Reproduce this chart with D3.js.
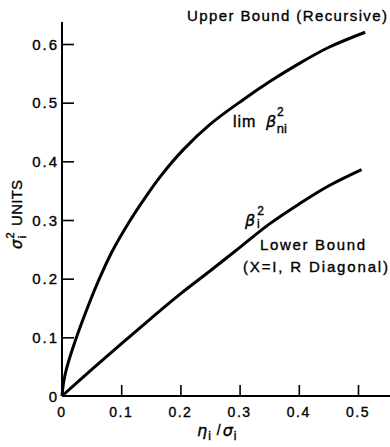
<!DOCTYPE html>
<html><head><meta charset="utf-8">
<script src="https://cdn.jsdelivr.net/npm/d3@7"></script>
<style>
html,body{margin:0;padding:0;background:#fff;}
svg{display:block;}
text{font-family:"Liberation Sans",Arial,sans-serif;fill:#000;stroke:#000;stroke-width:0.35px;}
.gr{font-family:"DejaVu Sans",sans-serif;font-style:italic;}
</style></head>
<body><div id="chart"></div>
<script>
// ---- data ----
const upperX = [0, 0.003, 0.008, 0.022, 0.044, 0.061, 0.084, 0.115, 0.137, 0.166, 0.205, 0.25, 0.306, 0.351, 0.396, 0.45, 0.512];
const upperY = [0, 0.025, 0.048, 0.093, 0.153, 0.195, 0.245, 0.299, 0.333, 0.374, 0.42, 0.463, 0.505, 0.536, 0.564, 0.594, 0.62];
const lowerX = [0, 0.05, 0.1, 0.15, 0.2, 0.25, 0.3, 0.35, 0.4, 0.45, 0.506];
const lowerY = [0, 0.045, 0.089, 0.132, 0.174, 0.213, 0.253, 0.293, 0.327, 0.358, 0.386];
const xTicks = [0, 0.1, 0.2, 0.3, 0.4, 0.5];
const xTickLabels = ["0", "0.1", "0.2", "0.3", "0.4", "0.5"];
const yTicks = [0, 0.1, 0.2, 0.3, 0.4, 0.5, 0.6];
const yTickLabels = ["0", "0.1", "0.2", "0.3", "0.4", "0.5", "0.6"];

const W = 390, H = 447;
const svg = d3.select("#chart").append("svg").attr("width", W).attr("height", H);

const x = d3.scaleLinear().domain([0, 0.5]).range([62, 358]);
const y = d3.scaleLinear().domain([0, 0.6]).range([396, 44]);

// axes lines
svg.append("line").attr("x1", x(0)).attr("x2", W).attr("y1", y(0)).attr("y2", y(0))
  .attr("stroke", "#000").attr("stroke-width", 2);
svg.append("line").attr("x1", x(0)).attr("x2", x(0)).attr("y1", y(0)).attr("y2", 22)
  .attr("stroke", "#000").attr("stroke-width", 2);

// x axis ticks (inward, upward)
const xAxis = d3.axisTop(x).tickValues(xTicks.slice(1)).tickSize(11).tickFormat("");
const gx = svg.append("g").attr("transform", `translate(0,${y(0)})`).call(xAxis);
gx.select(".domain").remove();
gx.selectAll(".tick line").attr("stroke", "#000").attr("stroke-width", 1.6);
svg.append("g").selectAll("text").data(xTicks).join("text")
  .attr("x", d => x(d)).attr("y", 417).attr("text-anchor", "middle")
  .attr("font-size", 14).attr("letter-spacing", 1.5)
  .text((d, i) => xTickLabels[i]);

// y axis ticks (inward, rightward)
const yAxis = d3.axisRight(y).tickValues(yTicks.slice(1)).tickSize(12).tickFormat("");
const gy = svg.append("g").attr("transform", `translate(${x(0)},0)`).call(yAxis);
gy.select(".domain").remove();
gy.selectAll(".tick line").attr("stroke", "#000").attr("stroke-width", 1.6);
svg.append("g").selectAll("text").data(yTicks).join("text")
  .attr("x", 59).attr("y", d => y(d) + 5.5).attr("text-anchor", "end")
  .attr("font-size", 15).attr("letter-spacing", 2)
  .text((d, i) => yTickLabels[i]);

// curves
const line = d3.line().x(d => x(d[0])).y(d => y(d[1])).curve(d3.curveCatmullRom.alpha(0.5));
svg.append("path").datum(d3.zip(upperX, upperY)).attr("d", line)
  .attr("fill", "none").attr("stroke", "#000").attr("stroke-width", 3);
svg.append("path").datum(d3.zip(lowerX, lowerY)).attr("d", line)
  .attr("fill", "none").attr("stroke", "#000").attr("stroke-width", 3);

// annotations
svg.append("text").attr("x", 187).attr("y", 21).attr("font-size", 15)
  .attr("textLength", 200).attr("lengthAdjust", "spacing").text("Upper Bound (Recursive)");

const t1 = svg.append("text").attr("x", 233).attr("y", 127).attr("font-size", 16);
t1.append("tspan").attr("letter-spacing", 1).text("lim ");
t1.append("tspan").attr("class", "gr").attr("dx", 4).text("β");
t1.append("tspan").attr("font-size", 12).attr("dy", -11).attr("dx", 1).text("2");
t1.append("tspan").attr("font-size", 13).attr("dy", 17).attr("dx", -7).text("ni");

const t2 = svg.append("text").attr("x", 245).attr("y", 226).attr("font-size", 16);
t2.append("tspan").attr("class", "gr").text("β");
t2.append("tspan").attr("font-size", 12).attr("dy", -11).attr("dx", 2).text("2");
t2.append("tspan").attr("font-size", 12).attr("dy", 13).attr("dx", -7).text("i");

svg.append("text").attr("x", 260).attr("y", 250).attr("font-size", 15)
  .attr("textLength", 105).attr("lengthAdjust", "spacing").text("Lower Bound");
svg.append("text").attr("x", 243).attr("y", 272).attr("font-size", 15)
  .attr("textLength", 145).attr("lengthAdjust", "spacing").text("(X=I, R Diagonal)");

// x axis title
const xt = svg.append("text").attr("x", 197).attr("y", 436).attr("font-size", 16);
xt.append("tspan").attr("class", "gr").text("η");
xt.append("tspan").attr("font-size", 12).attr("dy", 4).attr("dx", 1).text("i");
xt.append("tspan").attr("dy", -5).attr("dx", 6).attr("font-size", 14).text("/");
xt.append("tspan").attr("class", "gr").attr("dy", 1).attr("dx", 2).text("σ");
xt.append("tspan").attr("font-size", 12).attr("dy", 4).attr("dx", 1).text("i");

// y axis title
const yt = svg.append("text").attr("transform", "translate(22,249) rotate(-90)").attr("font-size", 15);
yt.append("tspan").attr("class", "gr").text("σ");
yt.append("tspan").attr("font-size", 11).attr("dy", -8).attr("dx", 1).text("2");
yt.append("tspan").attr("font-size", 11).attr("dy", 12).attr("dx", -6).text("i");
yt.append("tspan").attr("dy", -4).attr("dx", 10).attr("textLength", 46).attr("lengthAdjust", "spacing").text("UNITS");
</script>
</body></html>
